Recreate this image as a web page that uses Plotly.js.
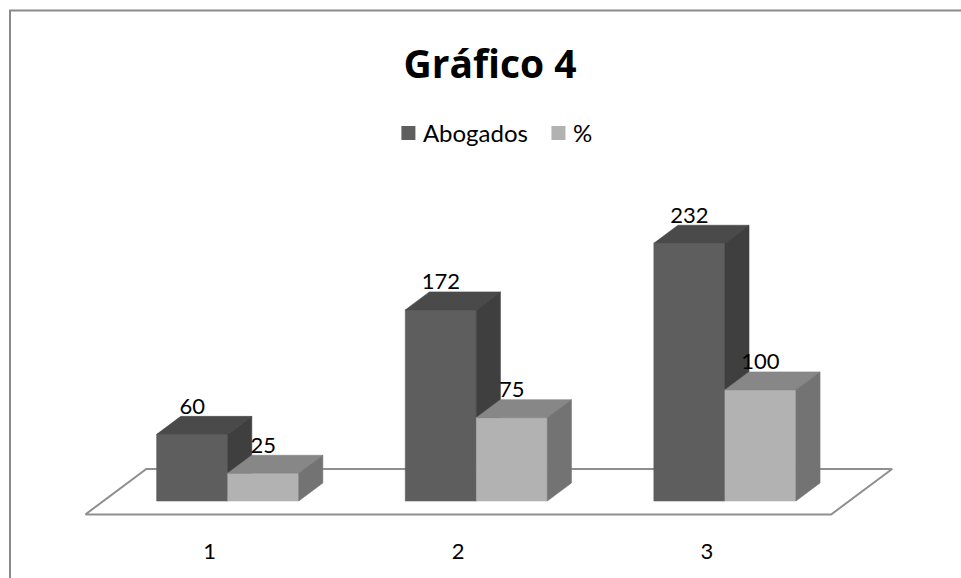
<!DOCTYPE html>
<html>
<head>
<meta charset="utf-8">
<script src="https://cdn.plot.ly/plotly-3.0.1.min.js"></script>
<style>
  html, body { margin: 0; padding: 0; background: #ffffff; }
  #chart { width: 961px; height: 578px; }
  /* pull legend labels a little closer to their swatches */
  #chart .legendtext { transform: translate(-5.5px, 0); }
</style>
</head>
<body>
<div id="chart"></div>
<script>
// ---- data ----
const categories = ['1', '2', '3'];
const seriesNames = ['Abogados', '%'];
const abogados = [60, 172, 232];
const porcentaje = [25, 75, 100];

// ---- pseudo-3D geometry, in axis units ----
const BAR_W = 2 / 7;      // two bars per group, gap width 150%
const FX = 0.2454;        // horizontal shift over the full floor depth
const FZ = 40.95;         // vertical shift over the full floor depth
const D0 = 0.2967;        // depth of the bar front faces
const DD = 0.395;         // depth of a bar
const FLOOR_X = [0.5, 3.5];
const LABEL_DY = 7.2;     // data labels sit just above the back edge of the top face

const FACES = [
  { front: '#5e5e5e', top: '#4a4a4a', side: '#3f3f3f' },
  { front: '#b2b2b2', top: '#878787', side: '#737373' }
];
const FONT = 'Lato, "Open Sans", sans-serif';
const TITLE_FONT = '"Open Sans", Lato, sans-serif';

// oblique projection: (x, height, depth) -> plot coordinates
function proj(x, z, d) { return [x + d * FX, z + d * FZ]; }

function addPoly(acc, pts) {
  pts.concat([pts[0]]).forEach(p => { acc.x.push(p[0]); acc.y.push(p[1]); });
  acc.x.push(null); acc.y.push(null);
}

function faceTrace(acc, color) {
  return {
    type: 'scatter', mode: 'lines', x: acc.x, y: acc.y,
    fill: 'toself', fillcolor: color,
    line: { color: color, width: 0.6 },
    showlegend: false, hoverinfo: 'skip'
  };
}

const traces = [];

// floor
const floor = { x: [], y: [] };
addPoly(floor, [
  proj(FLOOR_X[0], 0, 0), proj(FLOOR_X[1], 0, 0),
  proj(FLOOR_X[1], 0, 1), proj(FLOOR_X[0], 0, 1)
]);
traces.push({
  type: 'scatter', mode: 'lines', x: floor.x, y: floor.y,
  fill: 'toself', fillcolor: '#ffffff',
  line: { color: '#8f8f8f', width: 2 },
  showlegend: false, hoverinfo: 'skip'
});

// bars: front, top and right side of every box
const allSeries = [abogados, porcentaje];
allSeries.forEach((vals, s) => {
  const front = { x: [], y: [] }, top = { x: [], y: [] }, side = { x: [], y: [] };
  const lx = [], ly = [], lt = [];
  vals.forEach((v, i) => {
    const x0 = (i + 1) - BAR_W + s * BAR_W;
    const x1 = x0 + BAR_W;
    const dA = D0, dB = D0 + DD;
    addPoly(front, [proj(x0, 0, dA), proj(x1, 0, dA), proj(x1, v, dA), proj(x0, v, dA)]);
    addPoly(top, [proj(x0, v, dA), proj(x1, v, dA), proj(x1, v, dB), proj(x0, v, dB)]);
    addPoly(side, [proj(x1, 0, dA), proj(x1, 0, dB), proj(x1, v, dB), proj(x1, v, dA)]);
    lx.push((x0 + x1) / 2 + dA * FX);
    ly.push(v + dB * FZ + LABEL_DY);
    lt.push(String(v));
  });
  traces.push(faceTrace(front, FACES[s].front));
  traces.push(faceTrace(top, FACES[s].top));
  traces.push(faceTrace(side, FACES[s].side));
  traces.push({
    type: 'scatter', mode: 'text', x: lx, y: ly, text: lt,
    textposition: 'middle center',
    textfont: { family: FONT, size: 22, color: '#000000' },
    cliponaxis: false, showlegend: false, hoverinfo: 'skip'
  });
});

// legend entries
seriesNames.forEach((name, s) => {
  traces.push({
    type: 'scatter', mode: 'markers', x: [null], y: [null], name: name,
    marker: { symbol: 'square', size: 14, color: FACES[s].front },
    showlegend: true, hoverinfo: 'skip'
  });
});

const W = 961, H = 578, MB = 40;
const layout = {
  width: W, height: H,
  margin: { l: 0, r: 0, t: 0, b: MB, pad: 0 },
  paper_bgcolor: '#ffffff', plot_bgcolor: '#ffffff',
  hovermode: false,
  title: {
    text: 'Gráfico 4',
    font: { family: TITLE_FONT, size: 39, weight: 700, color: '#000000' },
    xref: 'container', yref: 'container',
    x: 490 / W, xanchor: 'center',
    y: 1 - 64 / H, yanchor: 'middle'
  },
  showlegend: true,
  legend: {
    orientation: 'h', x: 388.4 / W, xanchor: 'left',
    y: 1 - 133.5 / (H - MB), yanchor: 'middle',
    font: { family: FONT, size: 24, color: '#000000' },
    bgcolor: 'rgba(0,0,0,0)', itemclick: false, itemdoubleclick: false
  },
  xaxis: {
    range: [0.1569, 4.0225], tickvals: [1, 2, 3], ticktext: categories,
    showgrid: false, zeroline: false, showline: false, ticks: '',
    ticklabelstandoff: -2,
    tickfont: { family: FONT, size: 22, color: '#000000' }, fixedrange: true
  },
  yaxis: { range: [-21.15, 463.05], visible: false, fixedrange: true },
  shapes: [{
    type: 'rect', xref: 'paper', yref: 'paper',
    x0: 10 / W, x1: 1.2, y0: -0.3, y1: 1 - 10.5 / (H - MB),
    line: { color: '#8a8a8a', width: 2 }, fillcolor: 'rgba(0,0,0,0)', layer: 'below'
  }]
};

Plotly.newPlot('chart', traces, layout, { staticPlot: true, displayModeBar: false });
</script>
</body>
</html>
